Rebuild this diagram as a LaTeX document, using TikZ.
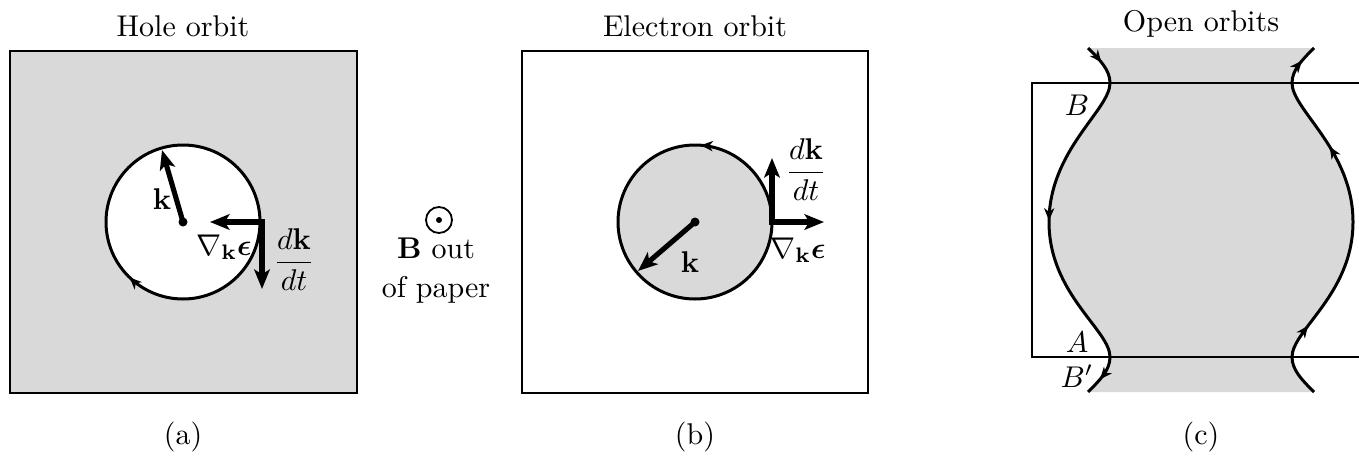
\documentclass[tikz,border=0pt]{standalone}
\usepackage{amsmath}
\usetikzlibrary{arrows.meta,decorations.markings}
\begin{document}
\begin{tikzpicture}[x=0.33333pt,y=-0.33333pt,
  boxline/.style={line width=0.7pt},
  orbit/.style={line width=1pt},
  vecarrow/.style={line width=1.7pt,line cap=rect,-{Stealth[length=6.5pt,width=5.2pt,inset=1.6pt]}},
  lbl/.style={inner sep=0pt,outer sep=0pt},
  shade/.style={fill=black!15},
  smalltip/.tip={Stealth[length=4pt,width=3.4pt,inset=1.2pt]}
]
\useasboundingbox (0,0) rectangle (1359,456);

% ---------------- (a) Hole orbit ----------------
\fill[shade] (10,51) rectangle (357,393);
\draw[boxline] (10,51) rectangle (357,393);
\coordinate (ac) at (183,222);
\fill[white] (ac) circle[radius=77];
\draw[orbit,postaction={decorate},decoration={markings,mark=at position 0.372 with {\arrow{smalltip}}}] (ac) circle[radius=77];
\coordinate (aktip) at (162,150);
\coordinate (acorner) at (262,222);
\coordinate (agrad) at (210,222);
\coordinate (adk) at (262,289);
\draw[vecarrow,line cap=butt] (ac) -- (aktip);
\draw[vecarrow] (acorner) -- (agrad);
\draw[vecarrow] (acorner) -- (adk);
\fill (ac) circle[radius=4.5];
\node[lbl] (ak) at (162,199) {$\mathbf{k}$};
\node[lbl] (agl) at (224,247) {$\nabla_{\mathbf{k}}\boldsymbol{\epsilon}$};
\node[lbl] (adl) at (294,260) {$\dfrac{d\mathbf{k}}{dt}$};
\node[lbl,anchor=base] (atitle) at (183,37) {Hole orbit};
\node[lbl] (alab) at (183,437) {(a)};

% ---------------- B out of paper ----------------
\coordinate (bc) at (439,220);
\draw[line width=0.6pt] (bc) circle[radius=13];
\fill (bc) circle[radius=3];
\node[lbl,anchor=base] (bout) at (436,258) {$\mathbf{B}$ out};
\node[lbl,anchor=base] (bpaper) at (436,297) {of paper};

% ---------------- (b) Electron orbit ----------------
\draw[boxline] (522,51) rectangle (868,393);
\coordinate (ec) at (695,222);
\fill[shade] (ec) circle[radius=77];
\draw[orbit,postaction={decorate},decoration={markings,mark=at position 0.762 with {\arrowreversed{smalltip}}}] (ec) circle[radius=77];
\coordinate (ektip) at (638,271);
\coordinate (ecorner) at (772,222);
\coordinate (egrad) at (824,222);
\coordinate (edk) at (772,158);
\draw[vecarrow,line cap=butt] (ec) -- (ektip);
\draw[vecarrow] (ecorner) -- (egrad);
\draw[vecarrow] (ecorner) -- (edk);
\fill (ec) circle[radius=4.5];
\node[lbl] (ek) at (690,262) {$\mathbf{k}$};
\node[lbl] (egl) at (798,250) {$\nabla_{\mathbf{k}}\boldsymbol{\epsilon}$};
\node[lbl] (edl) at (806,170) {$\dfrac{d\mathbf{k}}{dt}$};
\node[lbl,anchor=base] (etitle) at (695,37) {Electron orbit};
\node[lbl] (elab) at (695,437) {(b)};

% ---------------- (c) Open orbits ----------------
\fill[shade] (1088,48) .. controls (1100,60) and (1110,70) .. (1110,83)
  .. controls (1110,110) and (1049,150) .. (1049,222)
  .. controls (1049,294) and (1110,330) .. (1110,357)
  .. controls (1110,370) and (1100,380) .. (1088,392)
  -- (1314,392)
  .. controls (1302,380) and (1292,370) .. (1292,357)
  .. controls (1292,330) and (1353,294) .. (1353,222)
  .. controls (1353,150) and (1292,110) .. (1292,83)
  .. controls (1292,70) and (1302,60) .. (1314,48) -- cycle;
\draw[boxline] (1359,83) -- (1032,83) -- (1032,357) -- (1359,357);
\draw[orbit,postaction={decorate},decoration={markings,
    mark=at position 0.05 with {\arrow{smalltip}},
    mark=at position 0.5 with {\arrow{smalltip}},
    mark=at position 0.955 with {\arrow{smalltip}}}]
  (1088,48) .. controls (1100,60) and (1110,70) .. (1110,83)
  .. controls (1110,110) and (1049,150) .. (1049,222)
  .. controls (1049,294) and (1110,330) .. (1110,357)
  .. controls (1110,370) and (1100,380) .. (1088,392);
\draw[orbit,postaction={decorate},decoration={markings,
    mark=at position 0.2 with {\arrow{smalltip}},
    mark=at position 0.7 with {\arrow{smalltip}},
    mark=at position 0.955 with {\arrow{smalltip}}}]
  (1314,392) .. controls (1302,380) and (1292,370) .. (1292,357)
  .. controls (1292,330) and (1353,294) .. (1353,222)
  .. controls (1353,150) and (1292,110) .. (1292,83)
  .. controls (1292,70) and (1302,60) .. (1314,48);
\node[lbl] (cB) at (1077,105) {$B$};
\node[lbl] (cA) at (1077,342) {$A$};
\node[lbl] (cBp) at (1077,376) {$B'$};
\node[lbl,anchor=base] (ctitle) at (1201,31) {Open orbits};
\node[lbl] (clab) at (1201,437) {(c)};
\end{tikzpicture}
\end{document}
